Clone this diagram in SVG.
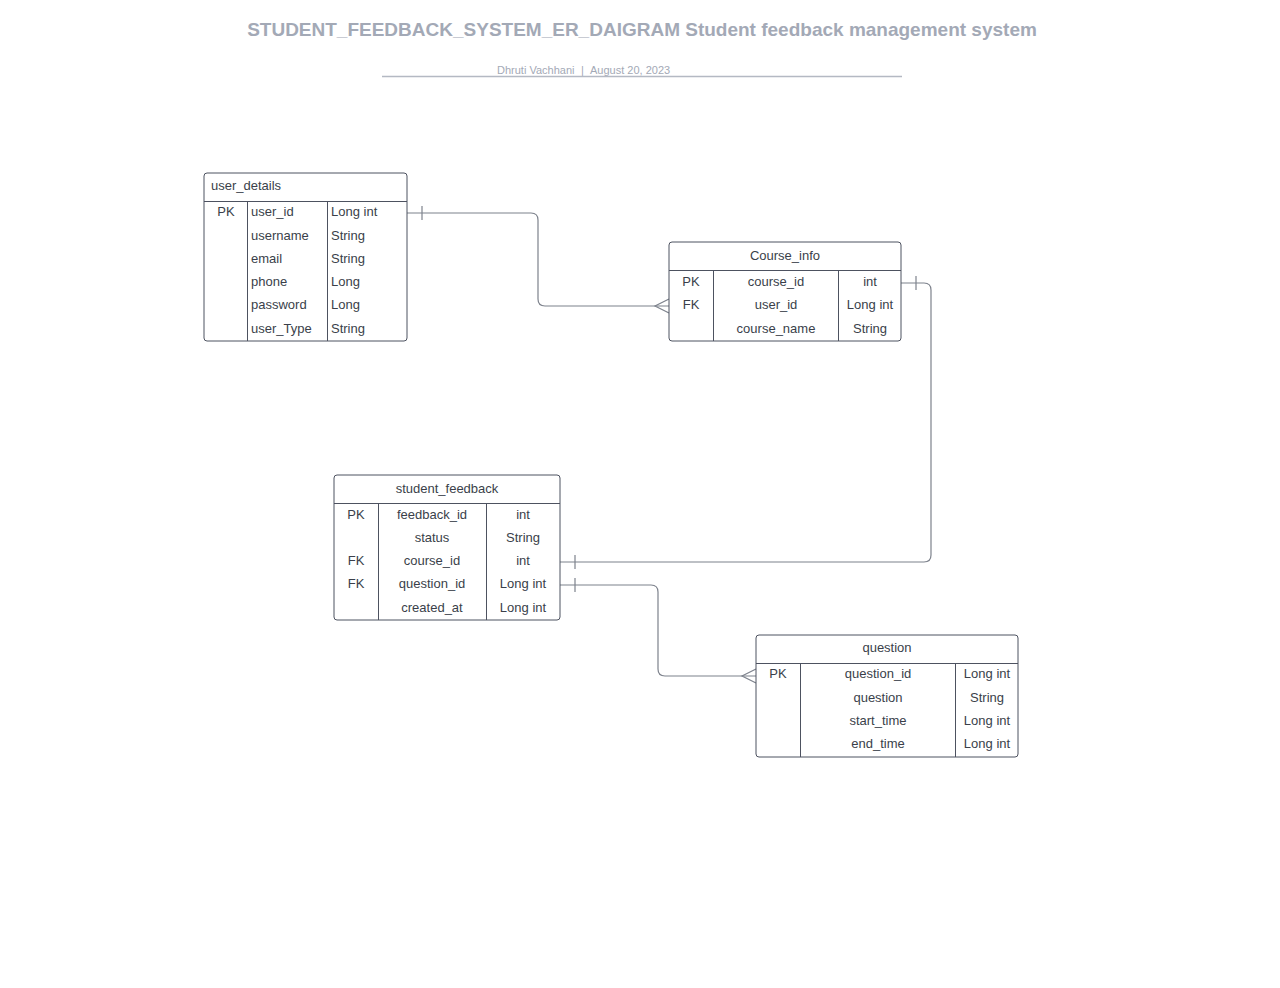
<svg xmlns="http://www.w3.org/2000/svg" width="1280" height="988" viewBox="0 0 1280 988">
<style>
.t{font-family:"Liberation Sans",Arial,sans-serif;font-size:13px;fill:#3a3f4a}
.c{text-anchor:middle}
.s{font-family:"Liberation Sans",Arial,sans-serif;font-size:11px;fill:#a3a9b6}
.box{fill:#fff;stroke:#4d5260;stroke-width:1}
.ln{stroke:#4d5260;stroke-width:1;fill:none}
.con{stroke:#7d828c;stroke-width:1.2;fill:none}
</style>
<rect width="1280" height="988" fill="#fff"/>
<g id="title">
<text x="642" y="36" text-anchor="middle" style="font-family:'Liberation Sans',Arial,sans-serif;font-size:19px;font-weight:bold;fill:#a3a9b6">STUDENT_FEEDBACK_SYSTEM_ER_DAIGRAM Student feedback management system</text>
<text class="s" x="497" y="74">Dhruti Vachhani</text>
<text class="s" x="581" y="74">|</text>
<text class="s" x="590" y="74">August 20, 2023</text>
<line x1="382" y1="76.5" x2="902" y2="76.5" stroke="#b4b9c3" stroke-width="1.5"/>
</g>
<g id="connectors">
<path class="con" d="M407 213 H531 Q538 213 538 220 V299 Q538 306 545 306 H669"/>
<line class="con" x1="422" y1="206" x2="422" y2="220"/>
<path class="con" d="M669 299 L655 306 L669 313"/>
<path class="con" d="M901 283 H924 Q931 283 931 290 V555 Q931 562 924 562 H560"/>
<line class="con" x1="916" y1="276" x2="916" y2="290"/>
<line class="con" x1="575" y1="555" x2="575" y2="569"/>
<path class="con" d="M560 585 H651 Q658 585 658 592 V669 Q658 676 665 676 H756"/>
<line class="con" x1="575" y1="578" x2="575" y2="592"/>
<path class="con" d="M756 669 L742 676 L756 683"/>
</g>
<g id="user_details">
<rect class="box" x="204" y="173" width="203" height="168" rx="3"/>
<line class="ln" x1="204" y1="201.5" x2="407" y2="201.5"/>
<line class="ln" x1="247.5" y1="201.5" x2="247.5" y2="341"/>
<line class="ln" x1="327.5" y1="201.5" x2="327.5" y2="341"/>
<text class="t" x="211" y="190">user_details</text>
<text class="t c" x="226" y="216">PK</text>
<text class="t" x="251" y="216">user_id</text><text class="t" x="331" y="216">Long int</text>
<text class="t" x="251" y="240">username</text><text class="t" x="331" y="240">String</text>
<text class="t" x="251" y="263">email</text><text class="t" x="331" y="263">String</text>
<text class="t" x="251" y="286">phone</text><text class="t" x="331" y="286">Long</text>
<text class="t" x="251" y="309">password</text><text class="t" x="331" y="309">Long</text>
<text class="t" x="251" y="333">user_Type</text><text class="t" x="331" y="333">String</text>
</g>
<g id="course_info">
<rect class="box" x="669" y="242" width="232" height="99" rx="3"/>
<line class="ln" x1="669" y1="270.5" x2="901" y2="270.5"/>
<line class="ln" x1="713.5" y1="270.5" x2="713.5" y2="341"/>
<line class="ln" x1="838.5" y1="270.5" x2="838.5" y2="341"/>
<text class="t c" x="785" y="260">Course_info</text>
<text class="t c" x="691" y="286">PK</text><text class="t c" x="776" y="286">course_id</text><text class="t c" x="870" y="286">int</text>
<text class="t c" x="691" y="309">FK</text><text class="t c" x="776" y="309">user_id</text><text class="t c" x="870" y="309">Long int</text>
<text class="t c" x="776" y="333">course_name</text><text class="t c" x="870" y="333">String</text>
</g>
<g id="student_feedback">
<rect class="box" x="334" y="475" width="226" height="145" rx="3"/>
<line class="ln" x1="334" y1="503.5" x2="560" y2="503.5"/>
<line class="ln" x1="378.5" y1="503.5" x2="378.5" y2="620"/>
<line class="ln" x1="486.5" y1="503.5" x2="486.5" y2="620"/>
<text class="t c" x="447" y="493">student_feedback</text>
<text class="t c" x="356" y="519">PK</text><text class="t c" x="432" y="519">feedback_id</text><text class="t c" x="523" y="519">int</text>
<text class="t c" x="432" y="542">status</text><text class="t c" x="523" y="542">String</text>
<text class="t c" x="356" y="565">FK</text><text class="t c" x="432" y="565">course_id</text><text class="t c" x="523" y="565">int</text>
<text class="t c" x="356" y="588">FK</text><text class="t c" x="432" y="588">question_id</text><text class="t c" x="523" y="588">Long int</text>
<text class="t c" x="432" y="612">created_at</text><text class="t c" x="523" y="612">Long int</text>
</g>
<g id="question">
<rect class="box" x="756" y="635" width="262" height="122" rx="3"/>
<line class="ln" x1="756" y1="663.5" x2="1018" y2="663.5"/>
<line class="ln" x1="800.5" y1="663.5" x2="800.5" y2="757"/>
<line class="ln" x1="955.5" y1="663.5" x2="955.5" y2="757"/>
<text class="t c" x="887" y="652">question</text>
<text class="t c" x="778" y="678">PK</text><text class="t c" x="878" y="678">question_id</text><text class="t c" x="987" y="678">Long int</text>
<text class="t c" x="878" y="702">question</text><text class="t c" x="987" y="702">String</text>
<text class="t c" x="878" y="725">start_time</text><text class="t c" x="987" y="725">Long int</text>
<text class="t c" x="878" y="748">end_time</text><text class="t c" x="987" y="748">Long int</text>
</g>
</svg>
